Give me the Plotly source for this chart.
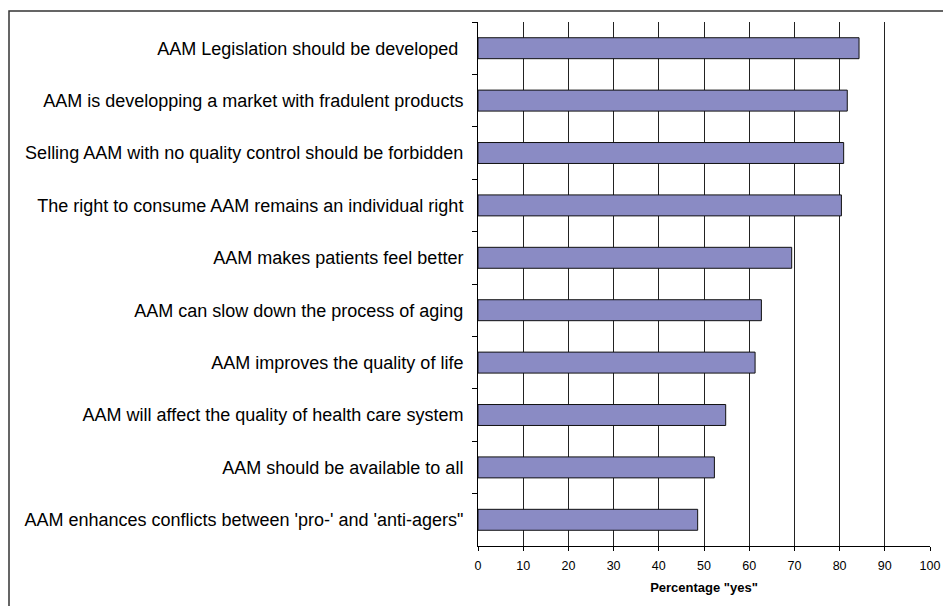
import plotly.graph_objects as go

categories = [
    "AAM Legislation should be developed ",
    "AAM is developping a market with fradulent products",
    "Selling AAM with no quality control should be forbidden",
    "The right to consume AAM remains an individual right",
    "AAM makes patients feel better",
    "AAM can slow down the process of aging",
    "AAM improves the quality of life",
    "AAM will affect the quality of health care system",
    "AAM should be available to all",
    "AAM enhances conflicts between 'pro-' and 'anti-agers\"",
]
values = [84.3, 81.7, 80.9, 80.4, 69.4, 62.7, 61.3, 54.8, 52.3, 48.6]
x_ticks = [0, 10, 20, 30, 40, 50, 60, 70, 80, 90, 100]
x_title = 'Percentage "yes"'

W, H = 943, 606
ML, MR, MT, MB = 478, 13, 22, 60
PW = W - ML - MR
PH = H - MT - MB

fig = go.Figure(go.Bar(
    y=categories, x=values, orientation="h",
    marker=dict(color="#8A8BC4", line=dict(color="#111111", width=1)),
    width=0.4,
))

def px_x(p):
    return (p - ML) / PW

def px_y(p):
    return (H - MB - p) / PH

fig.add_shape(type="rect", xref="paper", yref="paper",
              x0=px_x(9), x1=px_x(W + 5), y0=px_y(H + 5), y1=px_y(11),
              line=dict(color="#333333", width=1.5), fillcolor="rgba(0,0,0,0)")

fig.update_layout(
    width=W, height=H,
    margin=dict(l=ML, r=MR, t=MT, b=MB, autoexpand=False),
    paper_bgcolor="white", plot_bgcolor="white",
    font=dict(family="Liberation Sans, Arial, sans-serif", color="black"),
    showlegend=False,
    xaxis=dict(
        range=[0, 100], tickvals=x_ticks, ticks="outside", ticklen=4,
        tickcolor="black", showline=True, linecolor="black", linewidth=1,
        showgrid=True, gridcolor="#222222", gridwidth=1, zeroline=False,
        tickfont=dict(size=12.5), fixedrange=True, automargin=False,
        ticklabelstandoff=4,
        title=dict(text="<b>" + x_title + "</b>", font=dict(size=13), standoff=10),
    ),
    yaxis=dict(
        autorange="reversed", type="category", tickson="boundaries",
        ticks="outside", ticklen=5, tickcolor="black", automargin=False,
        showline=True, linecolor="black", linewidth=1, showgrid=False,
        tickfont=dict(size=18), ticklabelstandoff=10,
    ),
)

fig.write_html("out.html")
